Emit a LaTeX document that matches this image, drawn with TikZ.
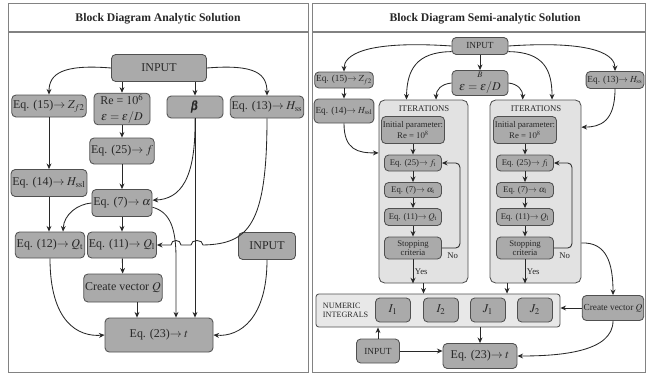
\documentclass[tikz,border=0pt]{standalone}
\usepackage{amsmath}
\usepackage{mathptmx}
\usepackage{fontspec}
\setmainfont{Liberation Serif}
\usetikzlibrary{arrows.meta,positioning,calc}
\definecolor{boxgray}{RGB}{170,170,170}
\definecolor{edgegray}{RGB}{80,80,80}
\definecolor{panelgray}{RGB}{226,226,226}
\definecolor{inkgray}{RGB}{40,40,40}
\definecolor{framegray}{RGB}{130,130,130}

\tikzset{
  blk/.style={draw=edgegray, fill=boxgray, semithick, rounded corners=3pt, align=center, text=inkgray, inner sep=1pt},
  txtL/.style={font=\fontsize{8.5}{9.5}\selectfont},
  txtR/.style={font=\fontsize{6.6}{7.5}\selectfont},
  txtS/.style={font=\fontsize{6.2}{6.8}\selectfont},
  wh/.style 2 args={minimum width={#1*0.025cm}, minimum height={#2*0.025cm}},
  grp/.style={draw=edgegray, fill=panelgray, semithick, rounded corners=4pt},
  flow/.style={-{Stealth[length=4pt,width=3.5pt]}, semithick, draw=inkgray},
  frame/.style={draw=framegray, semithick, fill=white},
  ttl/.style={font=\fontsize{8.3}{9}\selectfont\bfseries, text=inkgray},
}

\begin{document}
\begin{tikzpicture}[x=0.025cm,y=-0.025cm]
\useasboundingbox (0,0) rectangle (648,375);
% panels
\draw[frame] (8,3) rectangle (308,372);
\draw[framegray, thick] (8,32) -- (308,32);
\draw[frame] (312,3) rectangle (645,372);
\draw[framegray, thick] (312,32) -- (645,32);
\node[ttl] (ttlA) at (158,19) {Block Diagram Analytic Solution};
\node[ttl] (ttlB) at (485,19) {Block Diagram Semi-analytic Solution};

% ---- analytic solution ----
\node[blk,txtL,wh={95}{27}] (inA) at (159,68) {INPUT};
\node[blk,txtL,wh={66}{22}] (eqA15) at (49,106) {Eq. (15)$\rightarrow Z_{f2}$};
\node[blk,txtL,wh={56}{27}] (reA) at (122,109) {Re = $10^6$\\[1.5pt]$\epsilon=\varepsilon/D$};
\node[blk,txtL,wh={56}{22}] (betaA) at (195,107) {$\pmb{\beta}$};
\node[blk,txtL,wh={70}{22}] (eqA13) at (267,107) {Eq. (13)$\rightarrow H_{\mathrm{ss}}$};
\node[blk,txtL,wh={57}{26}] (eqA25) at (122,151) {Eq. (25)$\rightarrow f$};
\node[blk,txtL,wh={67}{27}] (eqA14) at (49,183) {Eq. (14)$\rightarrow H_{\mathrm{ssl}}$};
\node[blk,txtL,wh={57}{27}] (eqA7) at (122,203) {Eq. (7)$\rightarrow \alpha$};
\node[blk,txtL,wh={64}{26}] (eqA12) at (50,245) {Eq. (12)$\rightarrow Q_{\mathrm{t}}$};
\node[blk,txtL,wh={65}{26}] (eqA11) at (122,245) {Eq. (11)$\rightarrow Q_{\mathrm{l}}$};
\node[blk,txtL,wh={57}{27}] (inA2) at (267,246) {INPUT};
\node[blk,txtL,wh={74}{28}] (vecA) at (123,288) {Create vector $Q$};
\node[blk,txtL,wh={108}{34}] (eqA23) at (159,335) {Eq. (23)$\rightarrow t$};

\draw[flow] (inA.west) .. controls (62,64) and (49,74) .. (eqA15.north);
\draw[flow] (inA.east) .. controls (256,64) and (267,74) .. (eqA13.north);
\draw[flow] (inA.south -| reA) -- (reA.north);
\draw[flow] (inA.south -| betaA) -- (betaA.north);
\draw[flow] (eqA15) -- (eqA14);
\draw[flow] (reA) -- (eqA25);
\draw[flow] (eqA25) -- (eqA7);
\draw[flow] (betaA.south) .. controls (196,180) and (180,199) .. ([yshift=2pt]eqA7.east);
\draw[flow] (betaA.south) -- (betaA.south |- eqA23.north);
\coordinate (k7) at (176,258);
\draw[flow] ([yshift=-3pt]eqA7.east) .. controls (170,212) and (176,228) .. (k7) -- (k7 |- eqA23.north);
\draw[flow] (eqA13.south) .. controls (267,226) and (248,244) .. (203,245)
  .. controls (203,239) and (191,239) .. (191,245) -- (181,245)
  .. controls (181,239) and (171,239) .. (171,245) -- (eqA11.east);
\draw[flow] (eqA14.south) -- (eqA14.south |- eqA12.north);
\draw[flow] (eqA7.west) .. controls (78,204) and (64,214) .. ($(eqA12.north)+(13,0)$);
\draw[flow] (eqA7) -- (eqA11);
\draw[flow] (eqA11) -- (vecA);
\path ($(vecA.south)+(14,0)$) coordinate (vq);
\draw[flow] (vq) -- (vq |- eqA23.north);
\draw[flow] (eqA12.south) .. controls (50,322) and (78,337) .. (eqA23.west);
\draw[flow] (inA2.south) .. controls (267,318) and (240,337) .. (eqA23.east);

% ---- semi-analytic solution ----
\node[blk,txtR,wh={56}{17}] (inB) at (480,46) {INPUT};
\node[blk,txtR,wh={55}{16}] (eqB15) at (344,80) {Eq. (15)$\rightarrow Z_{f2}$};
\node[blk,txtR,wh={55}{24}] (eqB14) at (344,111) {Eq. (14)$\rightarrow H_{\mathrm{ssl}}$};
\node[blk,txtL,wh={56}{25}] (epsB) at (480,83) {\fontsize{6}{6}\selectfont$B$\\[0pt]$\epsilon=\varepsilon/D$};
\node[blk,txtR,wh={55}{17}] (eqB13) at (615,80) {Eq. (13)$\rightarrow H_{\mathrm{ss}}$};

\node[grp,wh={89}{183}] (itB1) at (423.5,191.5) {};
\node[grp,wh={91}{183}] (itB2) at (535.5,191.5) {};
\node[txtS,text=inkgray] (itT1) at (424,109) {ITERATIONS};
\node[txtS,text=inkgray] (itT2) at (536,109) {ITERATIONS};

\foreach \n/\x/\s in {1/413/\mathrm{t}, 2/525/\mathrm{l}}{
  \node[blk,txtS,wh={58}{27}] (iniB\n) at (\x,130) {Initial parameter:\\[1pt]Re = $10^8$};
  \node[blk,txtS,wh={57}{16}] (eq25B\n) at (\x,163) {Eq. (25)$\rightarrow f_{\s}$};
  \node[blk,txtS,wh={57}{15}] (eq7B\n) at (\x,190) {Eq. (7)$\rightarrow \alpha_{\s}$};
  \node[blk,txtS,wh={57}{17}] (eq11B\n) at (\x,217) {Eq. (11)$\rightarrow Q_{\s}$};
  \node[blk,txtS,wh={57}{22}] (stopB\n) at (\x,248) {Stopping\\criteria};
  \draw[flow] (iniB\n) -- (eq25B\n);
  \draw[flow] (eq25B\n) -- (eq7B\n);
  \draw[flow] (eq7B\n) -- (eq11B\n);
  \draw[flow] (eq11B\n) -- (stopB\n);
  \draw[flow, rounded corners=3pt] (stopB\n.east) -- ++(18,0)
    node[txtS, text=inkgray, anchor=north east, inner sep=1pt, yshift=-2pt] {No} |- (eq25B\n.east);
  \draw[flow] (stopB\n) -- (stopB\n |- itB\n.south)
    node[midway, right, txtS, text=inkgray, inner sep=1pt] {Yes};
}

\node[grp, rounded corners=2pt, fill=panelgray!80, wh={244}{33}] (numB) at (438,310.5) {};
\node[txtS, text=inkgray, align=left, anchor=west, font=\fontsize{5.8}{6.5}\selectfont] (numT) at (318,310) {NUMERIC\\INTEGRALS};
\node[blk,txtL,wh={35}{24}] (I1) at (393,310) {$I_1$};
\node[blk,txtL,wh={35}{24}] (I2) at (441,310) {$I_2$};
\node[blk,txtL,wh={35}{24}] (J1) at (488,310) {$J_1$};
\node[blk,txtL,wh={35}{24}] (J2) at (535,310) {$J_2$};
\node[blk,txtR,wh={61}{25}] (vecB) at (613,308) {Create vector $Q$};
\node[blk,txtR,wh={43}{24}] (inB2) at (378,351) {INPUT};
\node[blk,txtL,wh={74}{25}] (eqB23) at (480,356) {Eq. (23)$\rightarrow t$};

\draw[flow] (inB.west) .. controls (362,40) and (344,56) .. (eqB15.north);
\draw[flow] (inB.east) .. controls (598,40) and (615,56) .. (eqB13.north);
\draw[flow] ([yshift=-4pt]inB.west) .. controls (416,52) and (407,70) .. ($(itB1.north west)!0.31!(itB1.north east)$);
\draw[flow] ([yshift=-4pt]inB.east) .. controls (544,52) and (552,70) .. ($(itB2.north west)!0.68!(itB2.north east)$);
\draw[flow] (inB) -- (epsB);
\draw[flow] (epsB.west) .. controls (441,84) and (436,90) .. ($(itB1.north west)!0.64!(itB1.north east)$);
\draw[flow] (epsB.east) .. controls (518,84) and (523,90) .. ($(itB2.north west)!0.36!(itB2.north east)$);
\draw[flow] (eqB15) -- (eqB14);
\draw[flow] (eqB14.south) .. controls (344,150) and (358,153) .. ($(itB1.north west)!0.29!(itB1.south west)$);
\draw[flow] (eqB13.south) .. controls (615,122) and (600,127) .. ($(itB2.north east)!0.15!(itB2.south east)$);
\draw[flow] (itB1.south) -- (itB1.south |- numB.north);
\path ($(itB2.south west)!0.19!(itB2.south east)$) coordinate (yb2);
\draw[flow] (yb2) -- (yb2 |- numB.north);
\draw[flow] ($(itB2.north east)!0.78!(itB2.south east)$) .. controls (606,242) and (613,262) .. (vecB.north);
\draw[flow] (vecB.west) -- (vecB.west -| numB.east);
\draw[flow] (vecB.south) .. controls (613,352) and (560,356) .. (eqB23.east);
\draw[flow] (numB.south -| eqB23) -- (eqB23.north);
\draw[flow] (inB2) -- (inB2 |- numB.south);
\draw[flow] (inB2.east) -- (inB2.east -| eqB23.west);
\end{tikzpicture}
\end{document}
